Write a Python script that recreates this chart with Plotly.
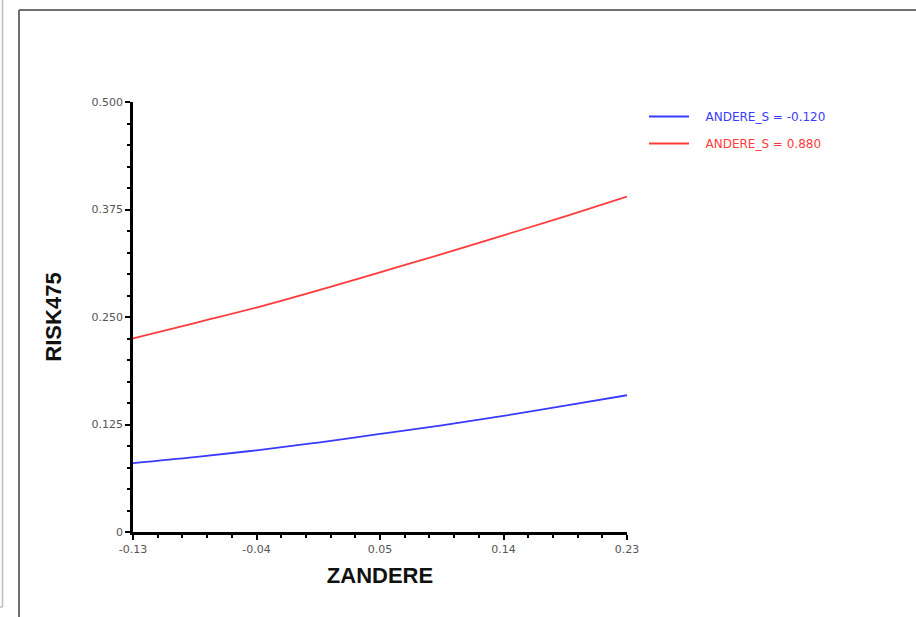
import plotly.graph_objects as go

# Data
zandere = [-0.13, -0.085, -0.04, 0.005, 0.05, 0.095, 0.14, 0.185, 0.23]
risk_blue = [0.080, 0.087, 0.095, 0.104, 0.114, 0.124, 0.135, 0.147, 0.159]
risk_red = [0.225, 0.243, 0.261, 0.281, 0.302, 0.323, 0.345, 0.367, 0.390]
series_names = ["ANDERE_S = -0.120", "ANDERE_S = 0.880"]
series_colors = ["#3a3aff", "#ff3a3a"]
x_ticks = [-0.13, -0.04, 0.05, 0.14, 0.23]
x_tick_labels = ["-0.13", "-0.04", "0.05", "0.14", "0.23"]
y_ticks = [0, 0.125, 0.25, 0.375, 0.5]
y_tick_labels = ["0", "0.125", "0.250", "0.375", "0.500"]

W, H = 916, 617
L, R, T, B = 133, 289, 102, 85
pw, ph = W - L - R, H - T - B

def px(x):
    return (x - L) / pw

def py(y):
    return (H - B - y) / ph

fig = go.Figure()
for i, (vals, name, col) in enumerate(zip([risk_blue, risk_red], series_names, series_colors)):
    fig.add_trace(go.Scatter(
        x=zandere, y=vals, mode="lines",
        name="\u00a0\u00a0\u00a0<span style='color:%s'>%s</span>" % (col, name),
        legendgroup="g%d" % i,
        line=dict(color=col, width=1.8, shape="spline")))

tick_font = "DejaVu Sans, Verdana, sans-serif"
title_font = "Liberation Sans, Arial, sans-serif"
fig.update_layout(
    width=W, height=H,
    margin=dict(l=L, r=R, t=T, b=B),
    paper_bgcolor="white", plot_bgcolor="white",
    font=dict(family=tick_font, color="#555555"),
    showlegend=True,
    legend=dict(x=px(644), y=py(102), xanchor="left", yanchor="top",
                font=dict(size=12, family=tick_font), bgcolor="rgba(0,0,0,0)",
                tracegroupgap=8, itemwidth=40),
    xaxis=dict(range=[-0.13, 0.23], tickvals=x_ticks, ticktext=x_tick_labels,
               showgrid=False, zeroline=False, showline=True, linecolor="black",
               linewidth=2.5, ticks="outside", ticklen=5, tickwidth=2, tickcolor="black",
               tickfont=dict(size=11, color="#555555"),
               minor=dict(dtick=0.018, tick0=-0.13, ticks="outside", ticklen=3,
                          tickwidth=2, tickcolor="black"),
               title=dict(text="<b>ZANDERE</b>", font=dict(size=22, color="#111111", family=title_font),
                          standoff=13)),
    yaxis=dict(range=[0, 0.5], tickvals=y_ticks, ticktext=y_tick_labels,
               showgrid=False, zeroline=False, showline=True, linecolor="black",
               linewidth=2.5, ticks="outside", ticklen=5, tickwidth=2, tickcolor="black",
               tickfont=dict(size=11, color="#555555"),
               minor=dict(dtick=0.025, tick0=0, ticks="outside", ticklen=3,
                          tickwidth=2, tickcolor="black"),
               title=dict(text="<b>RISK475</b>", font=dict(size=22, color="#111111", family=title_font),
                          standoff=24)),
    shapes=[
        dict(type="line", xref="paper", yref="paper", x0=px(19), x1=px(W + 5),
             y0=py(10), y1=py(10), line=dict(color="#707070", width=2)),
        dict(type="line", xref="paper", yref="paper", x0=px(19), x1=px(19),
             y0=py(10), y1=py(H + 5), line=dict(color="#707070", width=2)),
        dict(type="line", xref="paper", yref="paper", x0=px(2.5), x1=px(2.5),
             y0=py(-5), y1=py(607), line=dict(color="#bbbbbb", width=1.5)),
        dict(type="line", xref="paper", yref="paper", x0=px(-5), x1=px(2.5),
             y0=py(607), y1=py(607), line=dict(color="#bbbbbb", width=1.5)),
    ],
)

fig.write_html("out.html", config={"displayModeBar": False},
               post_script="document.body.style.margin='0';document.body.style.overflow='hidden';")
